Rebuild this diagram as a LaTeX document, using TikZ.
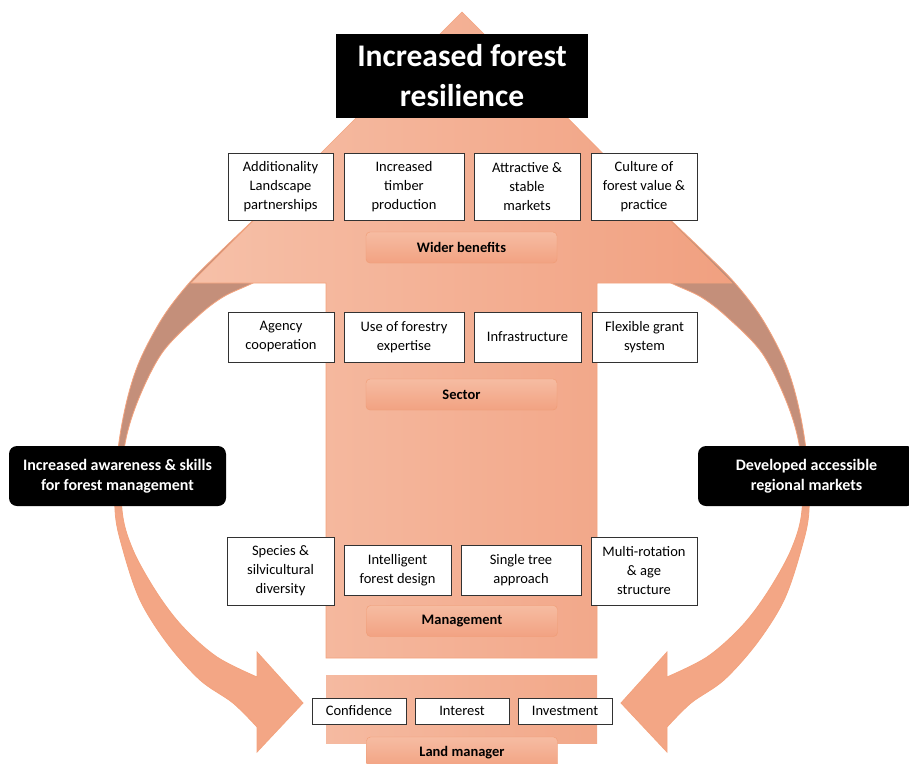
\documentclass[tikz,border=0pt]{standalone}
\usepackage{fontspec}
\setmainfont{Carlito}
\definecolor{arrL}{RGB}{246,192,168}
\definecolor{arrR}{RGB}{241,160,128}
\definecolor{barL}{RGB}{245,186,161}
\definecolor{barR}{RGB}{242,168,137}
\definecolor{brn}{RGB}{196,143,122}
\definecolor{salm}{RGB}{243,166,133}
\definecolor{arcedge}{RGB}{243,163,126}
\definecolor{lblT}{RGB}{246,188,162}
\definecolor{lblB}{RGB}{242,162,130}
\definecolor{lblD}{RGB}{240,156,116}
\definecolor{boxD}{RGB}{50,50,50}
\pgfdeclareverticalshading{arcshade}{100bp}{color(0bp)=(salm); color(47bp)=(salm); color(53bp)=(brn); color(100bp)=(brn)}
\newcommand\mycurvedpath{%
 plot[smooth, tension=0.55] coordinates {(262,212) (222,250) (190,282) (163,317) (140,360) (127,400) (118,450) (115,510) (123,550) (140,600) (167,643) (200,680) (233,703) (257,727)}
 -- (257,752) -- (303,703) -- (257,652) -- (257,677)
 -- plot[smooth, tension=0.55] coordinates {(257,677) (217,657) (183,627) (157,593) (133,550) (122,510) (124,450) (137,403) (162,353) (197,317) (223,297) (253,283) (295,262)}
 -- cycle}
\tikzset{
 wbox/.style={draw=boxD, fill=white, line width=0.9pt, align=center, inner sep=0pt, font=\fontsize{14.5}{19}\selectfont},
 lbl/.style={rounded corners=4pt, draw=lblD, top color=lblT, bottom color=lblB, minimum width=191pt, minimum height=31pt, inner sep=0pt, font=\bfseries\fontsize{14.5}{19}\selectfont},
 blk/.style={fill=black, text=white, align=center, inner sep=0pt, font=\bfseries\fontsize{16}{20}\selectfont, rounded corners=8pt, minimum width=217pt, minimum height=60pt},
 arcstyle/.style={shading=arcshade, draw=arcedge, line width=0.8pt}
}
\begin{document}
\begin{tikzpicture}[x=1pt, y=-1pt]
\useasboundingbox (0,0) rectangle (909,763);
\clip (0,0) rectangle (909,763);
% curved side arrows
\shadedraw[arcstyle] \mycurvedpath;
\begin{scope}[shift={(924,0)}, xscale=-1]
\shadedraw[arcstyle] \mycurvedpath;
\end{scope}
% big up arrow
\draw[draw=arcedge, line width=0.6pt, left color=arrL, right color=arrR]
 (462,12) -- (732,283) -- (597,283) -- (597,658) -- (326,658) -- (326,283) -- (191,283) -- cycle;
% land manager bar
\fill[left color=barL, right color=barR] (326,675) rectangle (597,743);
% title
\node[fill=black, text=white, align=center, inner sep=0pt, minimum width=252pt, minimum height=84pt,
 font=\bfseries\fontsize{31.5}{40}\selectfont] (title) at (462,76) {Increased forest\\resilience};
% side black boxes
\node[blk] (aware) at (117.5,476) {Increased awareness \& skills\\for forest management};
\node[blk] (markets) at (806.5,476) {Developed accessible\\regional markets};
% row 1
\node[wbox, minimum width=105pt, minimum height=67pt] (b11) at (280.5,186.5) {Additionality\\Landscape\\partnerships};
\node[wbox, minimum width=120pt, minimum height=67pt] (b12) at (404,186.5) {Increased\\timber\\production};
\node[wbox, minimum width=106pt, minimum height=67pt] (b13) at (527,186.5) {Attractive \&\\stable\\markets};
\node[wbox, minimum width=106pt, minimum height=67pt] (b14) at (644,186.5) {Culture of\\forest value \&\\practice};
\node[lbl] (wider) at (461.5,247.5) {Wider benefits};
% row 2
\node[wbox, minimum width=106pt, minimum height=50pt] (b21) at (281,337) {Agency\\cooperation};
\node[wbox, minimum width=120pt, minimum height=50pt] (b22) at (404,337) {Use of forestry\\expertise};
\node[wbox, minimum width=107pt, minimum height=50pt] (b23) at (527.5,337) {Infrastructure};
\node[wbox, minimum width=105pt, minimum height=50pt] (b24) at (644.5,337) {Flexible grant\\system};
\node[lbl] (sector) at (461.5,394.5) {Sector};
% row 3
\node[wbox, minimum width=107pt, minimum height=68pt] (b31) at (280.5,571) {Species \&\\silvicultural\\diversity};
\node[wbox, minimum width=107pt, minimum height=50pt] (b32) at (397.5,570) {Intelligent\\forest design};
\node[wbox, minimum width=120pt, minimum height=50pt] (b33) at (521,570) {Single tree\\approach};
\node[wbox, minimum width=106pt, minimum height=68pt] (b34) at (644,571) {Multi-rotation\\\& age\\structure};
\node[lbl] (manage) at (462,621) {Management};
% row 4
\node[wbox, minimum width=94pt, minimum height=26pt] (b41) at (359,711) {Confidence};
\node[wbox, minimum width=94pt, minimum height=26pt] (b42) at (462,711) {Interest};
\node[wbox, minimum width=94pt, minimum height=26pt] (b43) at (565,711) {Investment};
\node[lbl] (land) at (462,752.5) {Land manager};
\end{tikzpicture}
\end{document}
